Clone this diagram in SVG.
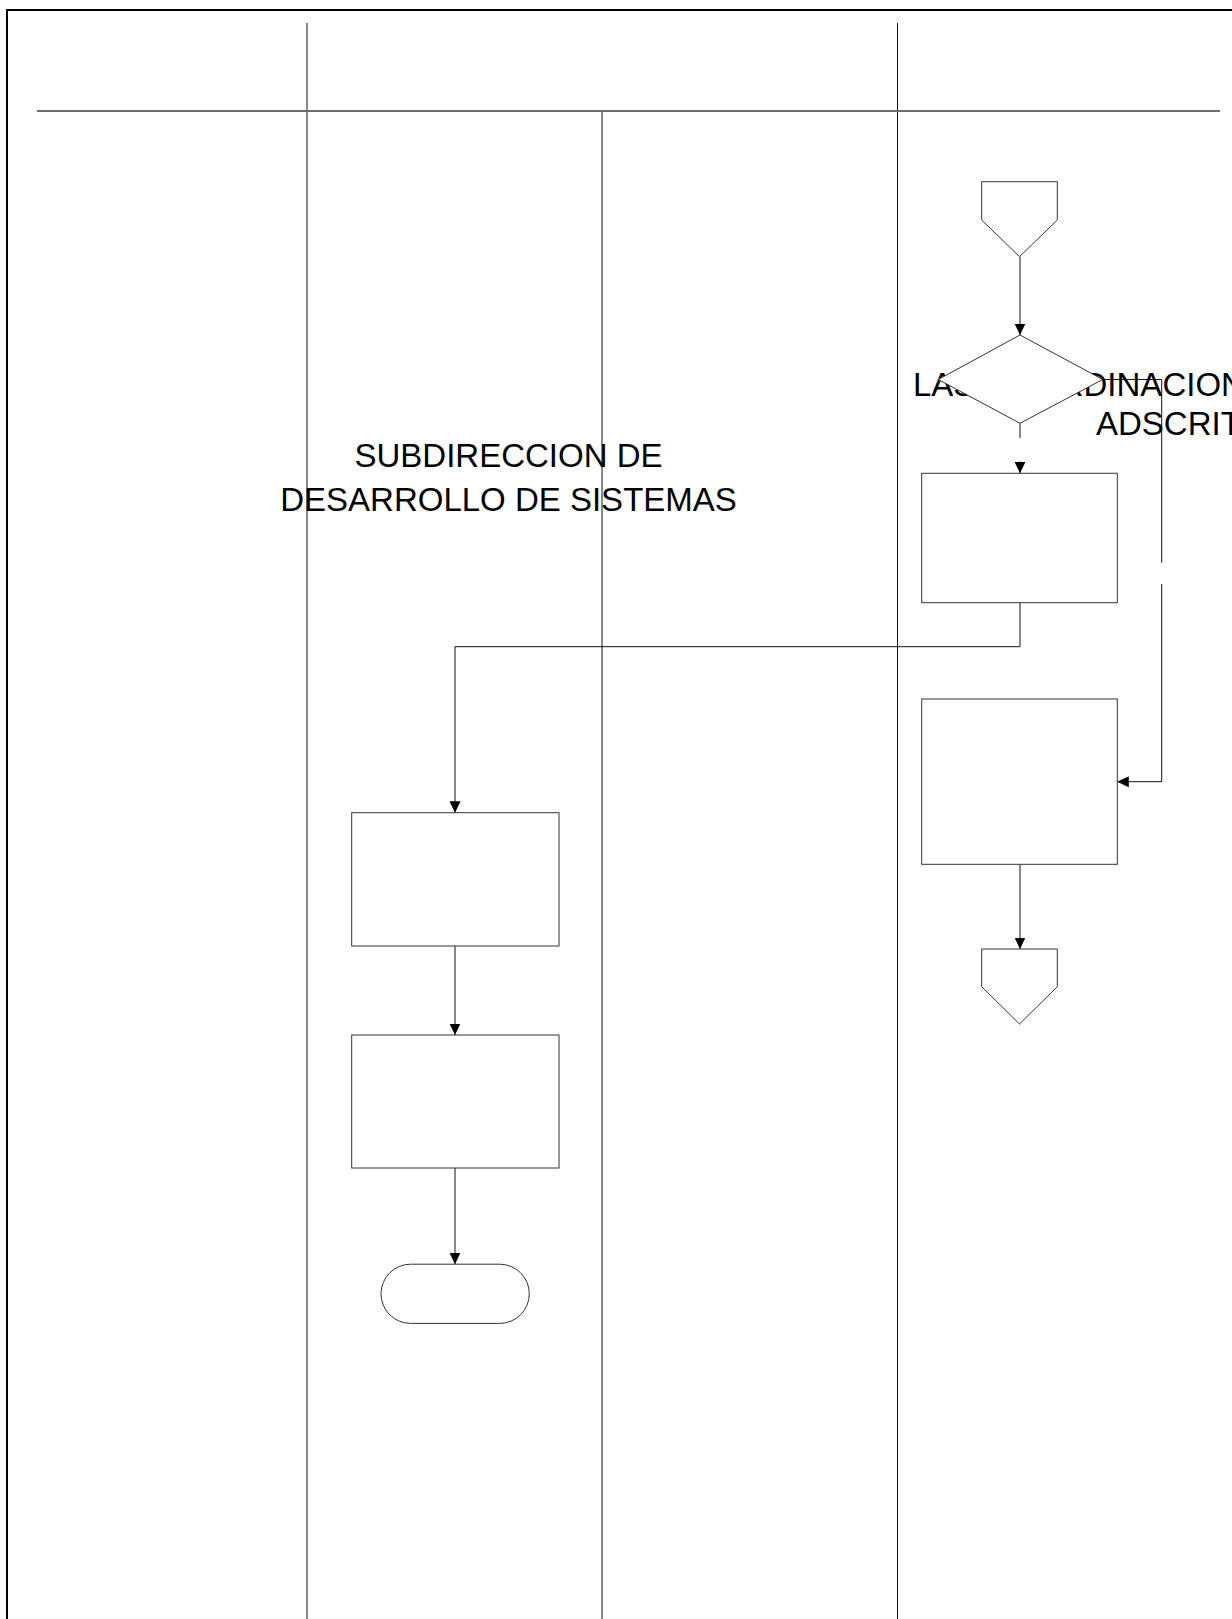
<svg xmlns="http://www.w3.org/2000/svg" width="1232" height="1619" viewBox="0 0 1232 1619">
  <style>
    .frame { fill: none; stroke: #000; stroke-width: 2; }
    .lane { fill: none; stroke: #111; stroke-width: 1; }
    .header { fill: none; stroke: #6e6e6e; stroke-width: 2; }
    .shape { fill: #fff; stroke: #333; stroke-width: 1; }
    .edge { fill: none; stroke: #111; stroke-width: 1; }
    .title { font-family: "Liberation Sans", Arial, sans-serif; font-size: 33px; fill: #000; }
  </style>
  <defs>
    <marker id="arrow" markerUnits="userSpaceOnUse" markerWidth="12" markerHeight="12" viewBox="0 0 12 12" refX="11.5" refY="6" orient="auto">
      <path d="M0,0.5 L11.5,6 L0,11.5 Z" fill="#000"/>
    </marker>
  </defs>

  <rect width="1232" height="1619" fill="#fff"/>

  <!-- page frame -->
  <g id="frame">
    <path class="frame" d="M7,1619 V10 H1232"/>
  </g>

  <!-- swimlane grid -->
  <g id="lanes">
    <line class="lane" x1="307" y1="23" x2="307" y2="1619"/>
    <line class="lane" x1="897.5" y1="23" x2="897.5" y2="1619"/>
    <line class="lane" x1="602" y1="111" x2="602" y2="1619"/>
    <line class="header" x1="37" y1="111" x2="1220" y2="111"/>
  </g>

  <!-- lane titles -->
  <g id="lane-titles">
    <text class="title" x="508.5" y="467" text-anchor="middle">SUBDIRECCION DE</text>
    <text class="title" x="508.5" y="511" text-anchor="middle">DESARROLLO DE SISTEMAS</text>
    <text class="title" x="913" y="396">LAS COORDINACIONES</text>
    <text class="title" x="1096" y="435">ADSCRITAS</text>
  </g>

  <!-- connectors -->
  <g id="connectors">
    <path class="edge" d="M1020,256.7 V335" marker-end="url(#arrow)"/>
    <path class="edge" d="M1020,423.3 V438"/>
    <path class="edge" d="M1020,461.5 V473.3" marker-end="url(#arrow)"/>
    <path class="edge" d="M1102.7,379.5 H1161.7 V562.7"/>
    <path class="edge" d="M1161.7,584 V781.7 H1117.3" marker-end="url(#arrow)"/>
    <path class="edge" d="M1020,602.7 V646.7 H455 V812.7" marker-end="url(#arrow)"/>
    <path class="edge" d="M1020,864.3 V949" marker-end="url(#arrow)"/>
    <path class="edge" d="M455,946 V1035" marker-end="url(#arrow)"/>
    <path class="edge" d="M455,1168 V1264.2" marker-end="url(#arrow)"/>
  </g>

  <!-- nodes -->
  <g id="node-offpage-in">
    <polygon class="shape" points="981.7,181.7 1057.3,181.7 1057.3,220 1019.5,256.7 981.7,220"/>
  </g>
  <g id="node-decision">
    <polygon class="shape" points="1020,335 1102.7,379.5 1020,423.3 938.3,379.5"/>
  </g>
  <g id="node-step-1">
    <rect class="shape" x="921.7" y="473.3" width="195.6" height="129.4"/>
  </g>
  <g id="node-step-2">
    <rect class="shape" x="921.7" y="699" width="195.6" height="165.3"/>
  </g>
  <g id="node-offpage-out">
    <polygon class="shape" points="981.7,949 1057.3,949 1057.3,986.7 1019.5,1024 981.7,986.7"/>
  </g>
  <g id="node-step-3">
    <rect class="shape" x="351.7" y="812.7" width="207.3" height="133.3"/>
  </g>
  <g id="node-step-4">
    <rect class="shape" x="351.7" y="1035" width="207.3" height="133"/>
  </g>
  <g id="node-end">
    <rect class="shape" x="381" y="1264.2" width="148.3" height="59.2" rx="29.6" ry="29.6"/>
  </g>
</svg>
